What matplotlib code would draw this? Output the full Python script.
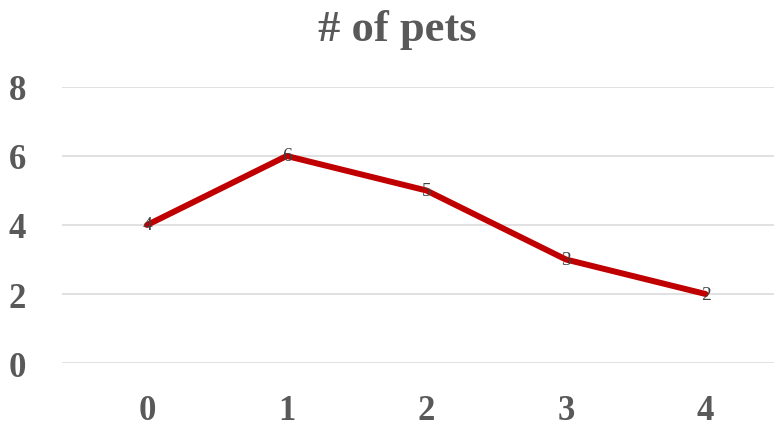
import matplotlib
matplotlib.use("Agg")
import matplotlib.pyplot as plt

# number of pets per household
pets = [0, 1, 2, 3, 4]
count = [4, 6, 5, 3, 2]
yticks = [0, 2, 4, 6, 8]

plt.rcParams['font.family'] = ['Liberation Serif', 'DejaVu Serif']

fig = plt.figure(figsize=(7.74, 4.27), dpi=100)
ax = fig.add_axes([0.080, 0.1475, 0.92, 0.6465])

ax.plot(pets, count, color='#C00000', linewidth=4.3, solid_capstyle='round', zorder=3)

for x, y in zip(pets, count):
    ax.text(x, y, str(y), ha='center', va='center', fontsize=14,
            color='#404040', zorder=4)

ax.set_xlim(-0.61, 4.49)
ax.set_ylim(0, 8)
ax.set_yticks(yticks)
ax.set_xticks(pets)
ax.grid(axis='y', color='#dcdcdc', linewidth=1.2)
ax.set_axisbelow(True)
for s in ax.spines.values():
    s.set_visible(False)
ax.tick_params(length=0, labelsize=25, labelcolor='#595959')
ax.tick_params(axis='y', pad=26)
ax.tick_params(axis='x', pad=22)
for lbl in ax.get_xticklabels() + ax.get_yticklabels():
    lbl.set_fontweight('bold')

fig.text(0.513, 0.93, '# of pets', ha='center', va='center', fontsize=32,
         fontweight='bold', color='#595959')

fig.savefig('out.png', dpi=100)
